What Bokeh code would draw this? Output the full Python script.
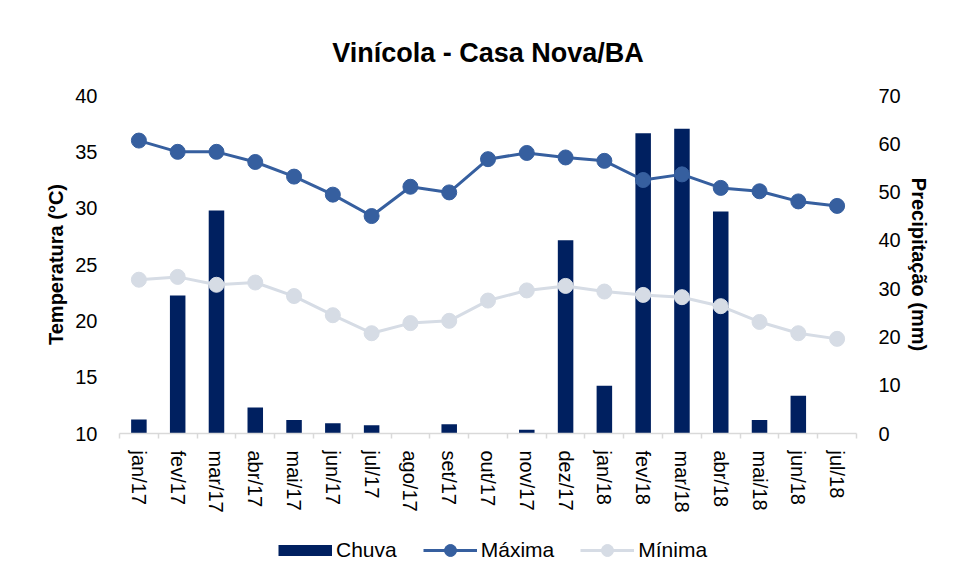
from bokeh.plotting import figure
from bokeh.layouts import column
from bokeh.models import (Range1d, LinearAxis, FixedTicker, Legend, LegendItem,
                          ColumnDataSource)
from bokeh.embed import file_html
from bokeh.resources import INLINE
import numpy as np

months = ["jan/17", "fev/17", "mar/17", "abr/17", "mai/17", "jun/17", "jul/17",
          "ago/17", "set/17", "out/17", "nov/17", "dez/17", "jan/18", "fev/18",
          "mar/18", "abr/18", "mai/18", "jun/18", "jul/18"]
chuva = [2.9, 28.6, 46.2, 5.4, 2.8, 2.1, 1.7, 0.0, 1.9, 0.0, 0.8, 40.0, 9.9,
         62.2, 63.1, 46.0, 2.8, 7.8, 0.0]
maxima = [36.0, 35.0, 35.0, 34.1, 32.8, 31.2, 29.3, 31.9, 31.4, 34.35, 34.9,
          34.5, 34.2, 32.5, 33.0, 31.8, 31.5, 30.6, 30.2]
minima = [23.65, 23.9, 23.2, 23.4, 22.2, 20.5, 18.9, 19.8, 20.0, 21.8, 22.7,
          23.1, 22.6, 22.3, 22.1, 21.3, 19.9, 18.9, 18.4]
temp_ticks = [10, 15, 20, 25, 30, 35, 40]
prec_ticks = [0, 10, 20, 30, 40, 50, 60, 70]

FONT = "Liberation Sans"
C_BAR = "#002060"
C_MAX = "#365F9F"
C_MIN = "#D6DCE5"
C_AXIS = "#D9D9D9"

x = np.arange(len(months)) + 0.5
src = ColumnDataSource(dict(x=x, chuva=chuva, maxima=maxima, minima=minima))

p = figure(output_backend="svg", toolbar_location=None,
           frame_width=737, frame_height=338,
           min_border_left=119, min_border_right=85,
           min_border_top=95, min_border_bottom=75,
           x_range=Range1d(0, len(months)), y_range=Range1d(10, 40),
           x_axis_location=None, y_axis_location=None)
p.extra_y_ranges = {"prec": Range1d(0, 70)}
p.xgrid.visible = False
p.ygrid.visible = False
p.outline_line_color = None
p.background_fill_color = "white"
p.border_fill_color = "white"

p.title.text = "Vinícola - Casa Nova/BA"
p.title.align = "center"
p.title.text_font = FONT
p.title.text_font_size = "27px"
p.title.text_font_style = "bold"
p.title.text_color = "#000000"
p.title.standoff = 55

# x axis
xax = LinearAxis(ticker=FixedTicker(ticks=list(x), minor_ticks=list(range(len(months) + 1))),
                 major_label_overrides={float(v): m for v, m in zip(x, months)})
xax.major_label_orientation = "vertical"
xax.major_tick_out = 0
xax.major_tick_in = 0
xax.minor_tick_in = 0
xax.minor_tick_out = 5
xax.minor_tick_line_color = C_AXIS
xax.minor_tick_line_width = 1.5
xax.axis_line_color = C_AXIS
xax.axis_line_width = 1.5
xax.major_label_text_font = FONT
xax.major_label_text_font_size = "20px"
xax.major_label_text_color = "#000000"
xax.major_label_standoff = 12
p.add_layout(xax, "below")

def style_y(ax, label_standoff):
    ax.axis_line_color = None
    ax.major_tick_line_color = None
    ax.minor_tick_line_color = None
    ax.major_label_text_font = FONT
    ax.major_label_text_font_size = "20px"
    ax.major_label_text_color = "#000000"
    ax.major_label_standoff = 16
    ax.axis_label_text_font = FONT
    ax.axis_label_text_font_size = "20px"
    ax.axis_label_text_font_style = "bold"
    ax.axis_label_text_color = "#000000"
    ax.axis_label_standoff = label_standoff

yl = LinearAxis(ticker=FixedTicker(ticks=temp_ticks), axis_label="Temperatura (°C)")
style_y(yl, 5)
p.add_layout(yl, "left")

yr = LinearAxis(y_range_name="prec", ticker=FixedTicker(ticks=prec_ticks),
                axis_label="Precipitação (mm)")
style_y(yr, 4)
p.add_layout(yr, "right")

p.vbar(x="x", top="chuva", width=0.4, bottom=0, source=src,
       y_range_name="prec", fill_color=C_BAR, line_color=None)
p.line("x", "maxima", source=src, line_color=C_MAX, line_width=3)
p.scatter("x", "maxima", source=src, size=15, fill_color=C_MAX, line_color=C_MAX)
p.line("x", "minima", source=src, line_color=C_MIN, line_width=3)
p.scatter("x", "minima", source=src, size=15, fill_color=C_MIN, line_color=C_MIN)

# legend strip below the chart; its swatch renderers use the same data but
# lie outside this strip's ranges, so only the legend shows
lf = figure(output_backend="svg", toolbar_location=None, width=941, height=72,
            x_range=Range1d(-3, -2), y_range=Range1d(-3, -2),
            x_axis_location=None, y_axis_location=None, min_border=0)
lf.xgrid.visible = False
lf.ygrid.visible = False
lf.outline_line_color = None
sw_chuva = lf.line("x", "chuva", source=src, line_color=C_BAR, line_width=11)
sw_max_l = lf.line("x", "maxima", source=src, line_color=C_MAX, line_width=3)
sw_max_c = lf.scatter("x", "maxima", source=src, fill_color=C_MAX, line_color=C_MAX)
sw_min_l = lf.line("x", "minima", source=src, line_color=C_MIN, line_width=3)
sw_min_c = lf.scatter("x", "minima", source=src, fill_color=C_MIN, line_color=C_MIN)

legend = Legend(items=[
    LegendItem(label="Chuva", renderers=[sw_chuva]),
    LegendItem(label="Máxima", renderers=[sw_max_l, sw_max_c]),
    LegendItem(label="Mínima", renderers=[sw_min_l, sw_min_c]),
], orientation="horizontal", location=(159, 22))
legend.label_text_font = FONT
legend.label_text_font_size = "21px"
legend.label_text_color = "#000000"
legend.glyph_width = 54
legend.glyph_height = 30
legend.label_standoff = 4
legend.spacing = 26
legend.padding = 5
legend.margin = 0
legend.border_line_color = None
legend.background_fill_alpha = 0
lf.add_layout(legend, "center")

layout = column(p, lf, spacing=0)
open("out.html", "w").write(file_html(layout, INLINE))
